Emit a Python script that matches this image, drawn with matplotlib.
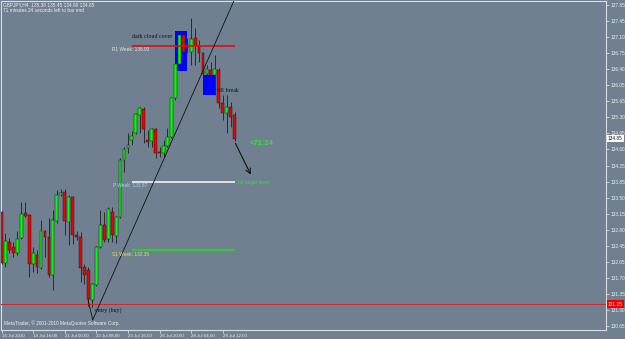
import matplotlib
matplotlib.use("Agg")
import matplotlib.pyplot as plt
from matplotlib.patches import Rectangle
import matplotlib.transforms as mtransforms

# ---------------- data ----------------
opens = [133.21, 132.07, 132.54, 132.43, 132.29, 132.63, 133.19, 133.14, 132.05, 132.25,
         131.96, 132.79, 132.65, 131.80, 133.01, 133.59, 133.66, 132.99, 133.55, 132.70,
         132.65, 131.98, 131.91, 131.24, 131.58, 132.43, 132.92, 132.61, 133.21, 132.67,
         133.10, 134.37, 134.64, 134.82, 134.98, 135.38, 135.51, 134.82, 134.80, 135.07,
         134.55, 134.53, 134.69, 134.89, 135.76, 136.52, 137.17, 136.92, 136.79, 137.10,
         136.92, 136.77, 136.30, 136.39, 136.27, 136.39, 135.65, 135.42, 135.56, 135.38]
highs = [133.23, 132.74, 132.63, 132.54, 132.79, 133.43, 133.43, 133.17, 132.43, 132.36,
         133.03, 132.81, 133.08, 133.25, 133.70, 133.72, 133.72, 133.59, 133.57, 132.79,
         132.76, 132.05, 131.98, 131.62, 132.45, 133.25, 133.21, 133.32, 133.32, 133.12,
         134.42, 134.66, 134.98, 135.02, 135.42, 135.56, 135.56, 135.04, 135.09, 135.09,
         134.66, 134.82, 135.09, 135.78, 136.54, 137.21, 137.26, 137.10, 137.55, 137.32,
         137.06, 136.79, 136.50, 136.56, 136.72, 136.43, 135.83, 135.83, 135.67, 135.45]
lows = [132.05, 131.98, 132.29, 132.20, 132.25, 132.61, 133.10, 131.76, 131.87, 131.85,
        131.94, 132.20, 131.76, 131.47, 132.96, 133.57, 132.70, 132.47, 132.49, 132.58,
        131.64, 131.60, 131.11, 131.09, 131.56, 132.41, 132.54, 132.54, 132.54, 132.52,
        133.08, 134.10, 134.53, 134.71, 134.95, 134.98, 134.75, 134.66, 134.66, 134.42,
        134.44, 134.44, 134.66, 134.86, 135.71, 136.50, 136.77, 136.77, 136.50, 136.50,
        136.56, 136.27, 136.27, 135.98, 135.83, 135.54, 135.27, 134.98, 135.11, 134.80]
closes = [132.07, 132.56, 132.36, 132.29, 132.61, 133.17, 133.12, 132.05, 132.29, 131.98,
          132.79, 132.65, 131.80, 133.03, 133.59, 133.63, 133.01, 133.55, 132.70, 132.65,
          131.96, 131.80, 131.26, 131.60, 132.43, 132.92, 132.58, 133.28, 132.70, 133.10,
          134.37, 134.62, 134.71, 134.91, 135.40, 135.54, 135.07, 134.78, 135.07, 134.53,
          134.53, 134.69, 134.89, 135.76, 136.52, 137.17, 136.79, 136.90, 137.08, 136.92,
          136.77, 136.30, 136.41, 136.27, 136.41, 135.65, 135.42, 135.56, 135.33, 134.85]

price_ticks = [137.85 - 0.36 * k for k in range(21)]
price_labels = ["137.85", "137.45", "137.10", "136.75", "136.40", "136.05", "135.65",
                "135.30", "134.95", "134.60", "134.25", "133.85", "133.50", "133.15",
                "132.80", "132.45", "132.05", "131.70", "131.35", "131.00", "130.65"]
time_ticks = [0, 8, 16, 24, 32, 40, 48, 56]
time_labels = ["16 Jul 2010", "19 Jul 16:00", "21 Jul 00:00", "22 Jul 08:00",
               "23 Jul 16:00", "26 Jul 20:00", "28 Jul 04:00", "29 Jul 12:00"]

r1_week = 136.93
pivot_week = 133.87
s1_week = 132.35
red_level = 131.15
last_price = 134.85
level_span = [33.0, 59.1]          # bar range of weekly level lines
box1 = [43.9, 47.0, 136.36, 137.26]  # x0, x1, y0, y1 (dark cloud cover)
box2 = [51.0, 54.1, 135.83, 136.27]  # SR break
trend_x = [23.1, 58.9]
trend_y = [130.80, 137.95]
entry_x = [21.9, 23.1]
entry_y = [131.24, 130.80]
arrow_from = (58.9, 134.80)
arrow_to = (63.4, 133.99)

# ---------------- figure ----------------
W, H = 625, 339
fig = plt.figure(figsize=(W / 100, H / 100), dpi=100)
bg = "#708090"
fig.patch.set_facecolor(bg)
ax = fig.add_axes([1 / W, (H - 330) / H, 605 / W, 329 / H])
ax.set_facecolor(bg)
ax.set_xlim(-0.13, 153.0)
ax.set_ylim(130.57, 137.93)

light = "#d8dde2"
for s in ax.spines.values():
    s.set_color(light)
    s.set_linewidth(0.8)

# boxes (behind candles)
for b in (box1, box2):
    ax.add_patch(Rectangle((b[0], b[2]), b[1] - b[0], b[3] - b[2],
                           facecolor="#0000ff", edgecolor="none", zorder=1))

# candles
xs = list(range(len(opens)))
for i in xs:
    o, h, l, c = opens[i], highs[i], lows[i], closes[i]
    up = c >= o
    ax.vlines(i, l, h, color="#1e1e1e", lw=0.6, zorder=2)
    bot = min(o, c)
    ht = max(abs(c - o), 0.012)
    ax.add_patch(Rectangle((i - 0.36, bot), 0.72, ht,
                           facecolor="#00ff00" if up else "#f00000",
                           edgecolor="#1e1e1e", lw=0.35, zorder=3))

# level lines
ax.hlines(r1_week, level_span[0], level_span[1], color="#e01010", lw=1.2, zorder=4)
ax.hlines(pivot_week, level_span[0], level_span[1], color="#f2f2f2", lw=1.2, zorder=4)
ax.hlines(s1_week, level_span[0], level_span[1], color="#22dd22", lw=1.2, zorder=4)
ax.axhline(red_level, color="#d02828", lw=0.7, zorder=4)

# trend line and entry mark
ax.plot(trend_x, trend_y, color="#111111", lw=0.6, zorder=5, clip_on=True)
ax.plot(entry_x, entry_y, color="#111111", lw=0.6, zorder=5)
ax.annotate("", xy=arrow_to, xytext=arrow_from,
            arrowprops=dict(arrowstyle="->", color="#111111", lw=0.8,
                            mutation_scale=9), zorder=5)

# texts
ax.text(33.0, 137.14, "dark cloud cover", fontsize=4.2, family="Liberation Serif",
        color="#111111", va="center", ha="left", zorder=6)
ax.text(28.0, 136.85, "R1 Week: " + f"{r1_week:.2f}", fontsize=3.4, family="Liberation Sans",
        color="#e6e6e6", va="center", ha="left", zorder=6)
ax.text(28.2, 133.81, "P Week: " + f"{pivot_week:.2f}", fontsize=3.4, family="Liberation Sans",
        color="#9fd3f7", va="center", ha="left", zorder=3.5)
ax.text(28.0, 132.25, "S1 Week: " + f"{s1_week:.2f}", fontsize=3.4, family="Liberation Sans",
        color="#e0e060", va="center", ha="left", zorder=6)
ax.text(54.6, 135.92, "SR break", fontsize=4.2, family="Liberation Serif",
        color="#111111", va="center", ha="left", zorder=6)
ax.text(62.7, 134.75, "<71:24", fontsize=5.4, family="Liberation Sans", weight="bold",
        color="#22ee22", va="center", ha="left", zorder=6)
ax.text(59.6, 133.88, "1st target level", fontsize=3.4, family="Liberation Sans",
        color="#33e033", va="center", ha="left", zorder=6)
ax.text(23.7, 131.02, "entry (buy)", fontsize=4.2, family="Liberation Serif",
        color="#111111", va="center", ha="left", zorder=6)

# axes ticks
ax.yaxis.tick_right()
ax.set_yticks(price_ticks)
ax.set_yticklabels(price_labels)
ax.tick_params(axis="y", direction="out", length=2, width=0.6, color=light,
               labelsize=3.4, labelcolor="#eef0f2", pad=1)
ax.set_xticks(time_ticks)
ax.set_xticklabels(time_labels)
ax.tick_params(axis="x", direction="out", length=2.2, width=0.6, color=light,
               labelsize=3.2, labelcolor="#eef0f2", pad=0.6)
for lab in ax.get_xticklabels():
    lab.set_ha("left")
    lab.set_family("Liberation Sans")
for lab in ax.get_yticklabels():
    lab.set_family("Liberation Sans")

# price boxes on the axis
trans = mtransforms.blended_transform_factory(ax.transAxes, ax.transData)
ax.text(1.003, last_price, f"{last_price:.2f}", transform=trans, fontsize=3.4,
        family="Liberation Sans", color="#111111", va="center", ha="left",
        bbox=dict(boxstyle="square,pad=0.25", facecolor="white", edgecolor="none"),
        zorder=7, clip_on=False)
ax.text(1.003, red_level, f"{red_level:.2f}", transform=trans, fontsize=3.4,
        family="Liberation Sans", color="white", va="center", ha="left",
        bbox=dict(boxstyle="square,pad=0.25", facecolor="#ee0000", edgecolor="none"),
        zorder=7, clip_on=False)

# header and footer
fig.text(3 / W, 1 - 2 / H, "GBPJPY,H4  135.38 135.45 134.80 134.85", fontsize=3.4,
         family="Liberation Sans", color="#eef0f2", va="top", ha="left")
fig.text(3 / W, 1 - 8 / H, "71 minutes 24 seconds left to bar end", fontsize=3.4,
         family="Liberation Sans", color="#eef0f2", va="top", ha="left")
ax.text(0.005, 0.012, "MetaTrader, \u00a9 2001-2010 MetaQuotes Software Corp.",
        transform=ax.transAxes, fontsize=3.4, family="Liberation Sans",
        color="#eef0f2", va="bottom", ha="left")

fig.savefig("out.png", dpi=100, facecolor=bg)
